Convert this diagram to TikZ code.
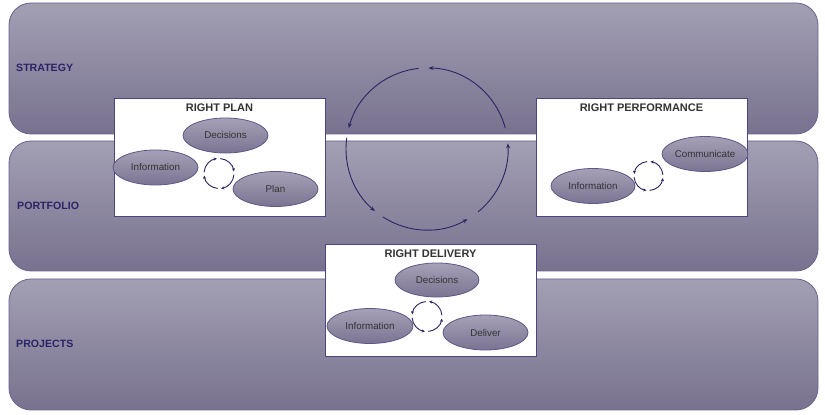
\documentclass[tikz,border=0pt]{standalone}
\usepackage{fontspec}
\setmainfont{Liberation Sans}
\usetikzlibrary{arrows.meta,calc,shapes.geometric}
\definecolor{bandtop}{HTML}{A39FB3}
\definecolor{bandbot}{HTML}{78728F}
\definecolor{bandline}{HTML}{6A6290}
\definecolor{panelline}{HTML}{4E4480}
\definecolor{elltop}{HTML}{A6A1B6}
\definecolor{ellbot}{HTML}{7A7493}
\definecolor{ellline}{HTML}{5E5688}
\definecolor{arrowc}{HTML}{2C2563}
\definecolor{labelc}{HTML}{2B2366}
\definecolor{textc}{HTML}{333333}
\begin{document}
\begin{tikzpicture}[x=1pt,y=1pt,
  band/.style={draw=bandline, line width=0.8pt, rounded corners=22pt, top color=bandtop, bottom color=bandbot, minimum width=809pt, minimum height=131pt, inner sep=0pt},
  bandlabel/.style={anchor=west, font=\fontsize{10.6}{12}\selectfont\bfseries, text=labelc, inner sep=0pt},
  panel/.style={draw=panelline, line width=1pt, fill=white, minimum width=211pt, minimum height=118pt, inner sep=0pt},
  ptitle/.style={font=\fontsize{11}{13}\selectfont\bfseries, text=textc, inner sep=0pt},
  ell/.style={ellipse, draw=ellline, line width=0.8pt, top color=elltop, bottom color=ellbot, minimum width=85pt, minimum height=35pt, inner sep=0pt, font=\fontsize{9.8}{11}\selectfont, text=textc},
  bigarc/.style={draw=arrowc, line width=0.9pt, -{Stealth[length=5pt,width=4pt]}},
  smallarc/.style={draw=arrowc, line width=0.9pt, -{Stealth[length=3.2pt,width=3pt]}}
]
\useasboundingbox (0,0) rectangle (825,415);
% bands
\node[band] (strategy) at (413.5,346.5) {};
\node[band, minimum height=130pt] (portfolio) at (413.5,209) {};
\node[band] (projects) at (413.5,70.5) {};
\node[bandlabel] (lstrategy) at (16,347) {STRATEGY};
\node[bandlabel] (lportfolio) at (17,209) {PORTFOLIO};
\node[bandlabel] (lprojects) at (16,71) {PROJECTS};
% big cycle
\coordinate (bigc) at (427,266);
\foreach \s/\e in {15/89, 96/165, 172/230, 237/300, 309/364}{
  \draw[bigarc] ($(bigc)+(\s:81)$) arc[start angle=\s, end angle=\e, radius=81];
}
% panels
\node[panel] (plan) at (219.5,257) {};
\node[panel] (perf) at (641.5,257) {};
\node[panel, minimum height=112pt] (deliv) at (430.5,114) {};
\node[ptitle] (tplan) at (219.5,307) {RIGHT PLAN};
\node[ptitle] (tperf) at (641.5,307) {RIGHT PERFORMANCE};
\node[ptitle] (tdeliv) at (430.5,161) {RIGHT DELIVERY};
% ellipses
\node[ell] (pdec) at (225.5,279.5) {Decisions};
\node[ell] (pinf) at (155.5,247.5) {Information};
\node[ell] (pplan) at (275.5,226) {Plan};
\node[ell, minimum width=86pt] (fcom) at (705,261) {Communicate};
\node[ell, minimum width=84pt] (finf) at (593,229) {Information};
\node[ell, minimum width=84pt, minimum height=34pt] (ddec) at (437,135) {Decisions};
\node[ell, minimum width=86pt] (dinf) at (370,89) {Information};
\node[ell] (ddel) at (485.5,82.5) {Deliver};
% small cycles
\coordinate (cplan) at (219,241.5);
\coordinate (cperf) at (648.5,239);
\coordinate (cdeliv) at (427,98.5);
\foreach \a in {0,90,180,270}{
  \draw[smallarc] ($(cplan)+(\a+85:15)$) arc[start angle=\a+85, end angle=\a+8, radius=15];
  \draw[smallarc] ($(cperf)+(\a+5:14.5)$) arc[start angle=\a+5, end angle=\a+82, radius=14.5];
  \draw[smallarc] ($(cdeliv)+(\a+5:15)$) arc[start angle=\a+5, end angle=\a+82, radius=15];
}
\end{tikzpicture}
\end{document}
